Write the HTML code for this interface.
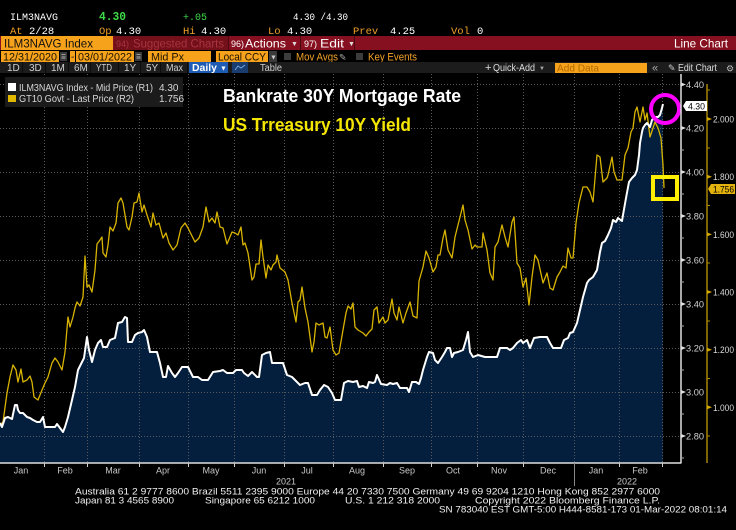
<!DOCTYPE html>
<html><head><meta charset="utf-8"><style>
html,body{margin:0;padding:0;background:#000;}
svg{display:block;}
text{font-family:"Liberation Sans","DejaVu Sans",sans-serif;}
.mono{font-family:"Liberation Mono","DejaVu Sans Mono",monospace;}
</style></head><body>
<svg width="736" height="530" viewBox="0 0 736 530" xmlns="http://www.w3.org/2000/svg">
<rect x="0" y="0" width="736" height="530" fill="#000"/>

<!-- Row 1 -->
<g font-size="10.5">
<text class="mono" x="10" y="20" fill="#fff" textLength="48" lengthAdjust="spacingAndGlyphs">ILM3NAVG</text>
<text class="mono" x="99" y="20" fill="#3fdc4a" font-weight="bold" font-size="11.5" textLength="27" lengthAdjust="spacingAndGlyphs">4.30</text>
<text class="mono" x="183" y="20" fill="#3fdc4a" textLength="24" lengthAdjust="spacingAndGlyphs">+.05</text>
<text class="mono" x="293" y="20" fill="#fff" textLength="55" lengthAdjust="spacingAndGlyphs">4.30 /4.30</text>
<!-- Row 2 -->
<text class="mono" x="10" y="34" fill="#f0a028">At</text>
<text class="mono" x="29" y="34" fill="#fff">2/28</text>
<text class="mono" x="99" y="34" fill="#f0a028">Op</text>
<text class="mono" x="116" y="34" fill="#fff">4.30</text>
<text class="mono" x="183" y="34" fill="#f0a028">Hi</text>
<text class="mono" x="201" y="34" fill="#fff">4.30</text>
<text class="mono" x="268" y="34" fill="#f0a028">Lo</text>
<text class="mono" x="287" y="34" fill="#fff">4.30</text>
<text class="mono" x="353" y="34" fill="#f0a028">Prev</text>
<text class="mono" x="390" y="34" fill="#fff">4.25</text>
<text class="mono" x="451" y="34" fill="#f0a028">Vol</text>
<text class="mono" x="477" y="34" fill="#fff">0</text>
</g>

<!-- Row 3 red bar -->
<rect x="0" y="36" width="736" height="14" fill="#86101f"/>
<rect x="1" y="36" width="112" height="14" fill="#f7a21b"/>
<text x="4" y="47.5" font-size="12" fill="#111" textLength="89" lengthAdjust="spacingAndGlyphs">ILM3NAVG Index</text>
<rect x="114" y="36" width="114" height="14" fill="#741019"/>
<text x="116" y="47" font-size="9" fill="#a8343f">94)</text>
<text x="133" y="47.5" font-size="12" fill="#a8343f" textLength="91" lengthAdjust="spacingAndGlyphs">Suggested Charts</text>
<rect x="228" y="36" width="1" height="14" fill="#4a0810"/>
<text x="231" y="47" font-size="9" fill="#fff">96)</text>
<text x="245" y="47.5" font-size="12" fill="#fff" textLength="41" lengthAdjust="spacingAndGlyphs">Actions</text>
<text x="291" y="46" font-size="7" fill="#ddd">▼</text>
<rect x="300" y="36" width="1" height="14" fill="#4a0810"/>
<text x="304" y="47" font-size="9" fill="#fff">97)</text>
<text x="320" y="47.5" font-size="12" fill="#fff" textLength="24" lengthAdjust="spacingAndGlyphs">Edit</text>
<text x="348" y="46" font-size="7" fill="#ddd">▼</text>
<rect x="354" y="36" width="1" height="14" fill="#4a0810"/>
<text x="674" y="47.5" font-size="12" fill="#fff" textLength="54" lengthAdjust="spacingAndGlyphs">Line Chart</text>

<!-- Row 4 -->
<rect x="1" y="51" width="58" height="11" fill="#f7a21b"/>
<text x="3" y="60.5" font-size="11" fill="#1a1200" textLength="54" lengthAdjust="spacingAndGlyphs">12/31/2020</text>
<rect x="60" y="52" width="7" height="9" fill="#3a3a3a"/>
<rect x="61.5" y="54" width="4" height="1" fill="#999"/><rect x="61.5" y="56" width="4" height="3" fill="#777"/>
<rect x="70" y="51" width="5" height="11" fill="#f7a21b"/>
<text x="71" y="60" font-size="10" fill="#111">-</text>
<rect x="76" y="51" width="58" height="11" fill="#f7a21b"/>
<text x="78" y="60.5" font-size="11" fill="#1a1200" textLength="54" lengthAdjust="spacingAndGlyphs">03/01/2022</text>
<rect x="135" y="52" width="7" height="9" fill="#3a3a3a"/>
<rect x="136.5" y="54" width="4" height="1" fill="#999"/><rect x="136.5" y="56" width="4" height="3" fill="#777"/>
<rect x="148" y="51" width="63" height="11" fill="#f7a21b"/>
<text x="151" y="60.5" font-size="11" fill="#1a1200" textLength="33" lengthAdjust="spacingAndGlyphs">Mid Px</text>
<rect x="216" y="51" width="52" height="11" fill="#f7a21b"/>
<text x="218" y="60.5" font-size="11" fill="#1a1200" textLength="48" lengthAdjust="spacingAndGlyphs">Local CCY</text>
<rect x="269" y="51" width="8" height="11" fill="#3a3a3a"/>
<text x="270" y="59.5" font-size="7" fill="#ccc">▼</text>
<rect x="284" y="53" width="7" height="7" fill="#3c3c3c"/>
<text x="296" y="60.5" font-size="11" fill="#f0a028" textLength="42" lengthAdjust="spacingAndGlyphs">Mov Avgs</text>
<text x="339" y="60.5" font-size="9" fill="#aaa" font-family="DejaVu Sans">✎</text>
<rect x="356" y="53" width="7" height="7" fill="#3c3c3c"/>
<text x="368" y="60.5" font-size="11" fill="#f0a028" textLength="49" lengthAdjust="spacingAndGlyphs">Key Events</text>

<!-- Row 5 -->
<rect x="0" y="62" width="736" height="11" fill="#1c1c1c"/>
<g font-size="10" fill="#cfcfcf">
<text x="7" y="71">1D</text>
<text x="29" y="71">3D</text>
<text x="51" y="71">1M</text>
<text x="74" y="71">6M</text>
<text x="96" y="71" textLength="16" lengthAdjust="spacingAndGlyphs">YTD</text>
<text x="124" y="71">1Y</text>
<text x="146" y="71">5Y</text>
<text x="166" y="71" textLength="17" lengthAdjust="spacingAndGlyphs">Max</text>
</g>
<g fill="#0c0c0c">
<rect x="22" y="62" width="1" height="11"/><rect x="45" y="62" width="1" height="11"/>
<rect x="68" y="62" width="1" height="11"/><rect x="90" y="62" width="1" height="11"/>
<rect x="118" y="62" width="1" height="11"/><rect x="140" y="62" width="1" height="11"/>
<rect x="160" y="62" width="1" height="11"/><rect x="187" y="62" width="1" height="11"/>
</g>
<rect x="189" y="62" width="39" height="11" fill="#1d5bb5"/>
<text x="192" y="71" font-size="10.5" fill="#fff" font-weight="bold" textLength="25" lengthAdjust="spacingAndGlyphs">Daily</text>
<text x="220" y="70.5" font-size="7" fill="#fff">▼</text>
<rect x="232" y="62" width="16" height="11" fill="#1a3c6e"/>
<polyline points="235,70 238,66 241,68 245,65" fill="none" stroke="#6fa8e8" stroke-width="1"/>
<text x="260" y="71" font-size="10" fill="#cfcfcf" textLength="22" lengthAdjust="spacingAndGlyphs">Table</text>
<text x="485" y="71" font-size="11" fill="#ddd">+</text>
<text x="493" y="71" font-size="10" fill="#ddd" textLength="42" lengthAdjust="spacingAndGlyphs">Quick-Add</text>
<text x="539" y="70" font-size="6" fill="#aaa">▼</text>
<rect x="555" y="63" width="92" height="10" fill="#f7a21b"/>
<text x="557" y="71.5" font-size="10.5" fill="#b06a00" textLength="42" lengthAdjust="spacingAndGlyphs">Add Data</text>
<text x="652" y="71.5" font-size="11" fill="#aaa">«</text>
<text x="668" y="71" font-size="9" fill="#ccc" font-family="DejaVu Sans">✎</text>
<text x="678" y="71" font-size="10" fill="#ddd" textLength="39" lengthAdjust="spacingAndGlyphs">Edit Chart</text>
<text x="726" y="71.5" font-size="9" fill="#bbb" font-family="DejaVu Sans">⚙</text>

<!-- Plot fill -->
<polygon fill="#031f3d" points="0,423 2,427 5,418 8,417 12,419 15,405 17,405 18,410 20,413 23,413 27,417 30,418 33,420 37,422 40,422 43,417 45,427 55,427 57,424 60,428 63,432 65,427 68,417 72,400 75,387 78,370 82,362 84,358 87,337 89,350 92,362 95,350 98,343 101,340 103,347 107,347 110,340 115,338 118,323 122,322 125,317 127,318 128,342 132,342 135,335 138,333 142,332 144,330 147,337 150,352 157,352 160,363 163,377 166,377 168,366 172,373 175,377 178,373 182,367 188,367 193,377 198,377 202,380 208,380 213,372 220,371 223,370 227,373 233,373 236,370 242,370 244,373 248,376 252,372 257,377 259,377 262,355 266,353 270,352 272,363 283,363 287,375 292,377 295,380 300,385 305,383 308,383 312,395 317,395 320,390 324,385 328,387 332,393 335,400 341,400 344,383 348,381 353,382 357,381 359,387 363,386 367,388 369,382 373,383 375,382 377,375 381,384 387,385 390,383 393,384 397,383 400,388 407,388 409,392 412,382 416,382 419,384 421,378 423,370 427,357 429,352 433,353 435,360 438,363 442,357 445,352 447,348 450,348 452,357 454,353 458,352 463,350 466,340 468,332 470,352 473,357 478,355 485,357 497,357 500,348 507,348 510,350 513,348 517,343 521,340 523,343 527,340 530,348 534,338 540,337 547,337 550,343 553,348 561,348 564,340 568,338 570,333 573,332 577,323 580,310 583,297 587,283 589,280 593,277 597,270 600,252 602,243 605,241 608,235 611,228 613,220 616,222 618,218 622,221 623,215 626,198 629,182 632,178 635,175 637,170 639,155 640,143 642,132 643,128 645,125 647,123 650,127 652,120 654,118 656,117 658,117 660,115 662,108 663,104 663,463 0,463"/>

<!-- Grid -->
<g stroke="#5a5a5a" stroke-width="1" stroke-dasharray="1 2">
<line x1="0" y1="84.5" x2="681" y2="84.5"/><line x1="0" y1="128.5" x2="681" y2="128.5"/>
<line x1="0" y1="172.5" x2="681" y2="172.5"/><line x1="0" y1="216.5" x2="681" y2="216.5"/>
<line x1="0" y1="260.5" x2="681" y2="260.5"/><line x1="0" y1="304.5" x2="681" y2="304.5"/>
<line x1="0" y1="348.5" x2="681" y2="348.5"/><line x1="0" y1="392.5" x2="681" y2="392.5"/>
<line x1="0" y1="436.5" x2="681" y2="436.5"/>
<line x1="44.5" y1="74" x2="44.5" y2="463"/><line x1="87.5" y1="74" x2="87.5" y2="463"/>
<line x1="139.5" y1="74" x2="139.5" y2="463"/><line x1="188.5" y1="74" x2="188.5" y2="463"/>
<line x1="234.5" y1="74" x2="234.5" y2="463"/><line x1="284.5" y1="74" x2="284.5" y2="463"/>
<line x1="333.5" y1="74" x2="333.5" y2="463"/><line x1="383.5" y1="74" x2="383.5" y2="463"/>
<line x1="431.5" y1="74" x2="431.5" y2="463"/><line x1="477.5" y1="74" x2="477.5" y2="463"/>
<line x1="523.5" y1="74" x2="523.5" y2="463"/><line x1="574.5" y1="74" x2="574.5" y2="463"/>
<line x1="619.5" y1="74" x2="619.5" y2="463"/><line x1="662.5" y1="74" x2="662.5" y2="463"/>
</g>

<!-- Legend -->
<rect x="5" y="77" width="178" height="30" fill="#1b1b1b"/>
<rect x="8" y="83" width="8" height="8" fill="#fff"/>
<text x="19" y="91" font-size="10" fill="#d8d8d8" textLength="134" lengthAdjust="spacingAndGlyphs">ILM3NAVG Index - Mid Price (R1)</text>
<text x="159" y="91" font-size="10" fill="#d8d8d8">4.30</text>
<rect x="8" y="95" width="8" height="7" fill="#e0b800"/>
<text x="19" y="102" font-size="10" fill="#d8d8d8" textLength="115" lengthAdjust="spacingAndGlyphs">GT10 Govt - Last Price (R2)</text>
<text x="159" y="102" font-size="10" fill="#d8d8d8">1.756</text>

<!-- Titles -->
<text x="223" y="102" font-size="18" font-weight="bold" fill="#fff" textLength="238" lengthAdjust="spacingAndGlyphs">Bankrate 30Y Mortgage Rate</text>
<text x="223" y="131" font-size="18" font-weight="bold" fill="#f5e600" textLength="188" lengthAdjust="spacingAndGlyphs">US Trreasury 10Y Yield</text>

<!-- Series -->
<polyline fill="none" stroke="#d8b400" stroke-width="1.3" stroke-linejoin="round" points="0,425 3,422 7,393 10,377 13,365 16,370 18,382 21,369 23,382 27,380 30,376 32,382 34,397 38,400 42,390 45,383 48,377 52,363 55,358 58,362 62,370 65,352 68,317 70,327 73,317 75,308 77,302 80,306 83,297 85,256 87,287 89,285 92,292 95,270 97,244 100,240 102,237 103,253 106,257 108,245 110,227 113,231 116,223 118,203 121,198 123,203 127,227 129,230 132,217 134,203 137,202 139,193 142,212 144,205 147,215 151,227 153,213 156,225 159,223 163,238 166,233 169,243 173,250 177,245 181,228 185,223 188,228 193,238 195,242 199,238 203,227 206,207 209,222 212,218 215,223 217,212 220,227 223,228 227,244 232,232 235,233 238,235 241,227 243,245 245,243 248,253 252,280 254,277 256,264 259,264 261,240 263,257 266,278 268,265 271,270 273,265 276,262 277,255 280,268 285,272 288,280 292,303 296,322 298,302 300,300 302,287 305,308 308,322 312,352 314,342 316,323 319,325 323,323 325,337 327,338 330,327 333,350 336,355 339,353 343,330 346,313 348,306 351,309 353,303 355,327 358,330 363,333 366,336 369,332 372,329 374,310 377,307 379,323 383,317 385,323 388,320 392,299 394,313 397,320 399,307 403,323 406,313 410,302 413,316 417,318 419,281 423,267 426,251 429,258 433,272 436,267 438,255 440,255 443,238 445,230 448,250 452,258 455,237 458,225 463,205 465,220 468,230 472,249 475,245 477,247 482,247 483,233 487,250 490,273 493,280 495,247 498,242 502,225 505,237 508,247 512,222 514,217 517,263 520,268 523,287 526,278 529,305 532,277 535,255 538,260 543,283 547,273 550,288 553,290 557,277 560,272 563,266 566,268 568,248 571,258 573,258 576,223 579,203 583,187 587,187 590,192 593,202 597,155 600,157 603,182 607,178 608,175 612,157 614,172 617,180 622,180 625,155 628,148 631,132 633,128 635,112 637,107 640,122 643,107 645,120 647,113 650,137 653,128 655,122 658,128 661,138 663,165 664,188"/>
<polyline fill="none" stroke="#fff" stroke-width="2" stroke-linejoin="round" points="0,423 2,427 5,418 8,417 12,419 15,405 17,405 18,410 20,413 23,413 27,417 30,418 33,420 37,422 40,422 43,417 45,427 55,427 57,424 60,428 63,432 65,427 68,417 72,400 75,387 78,370 82,362 84,358 87,337 89,350 92,362 95,350 98,343 101,340 103,347 107,347 110,340 115,338 118,323 122,322 125,317 127,318 128,342 132,342 135,335 138,333 142,332 144,330 147,337 150,352 157,352 160,363 163,377 166,377 168,366 172,373 175,377 178,373 182,367 188,367 193,377 198,377 202,380 208,380 213,372 220,371 223,370 227,373 233,373 236,370 242,370 244,373 248,376 252,372 257,377 259,377 262,355 266,353 270,352 272,363 283,363 287,375 292,377 295,380 300,385 305,383 308,383 312,395 317,395 320,390 324,385 328,387 332,393 335,400 341,400 344,383 348,381 353,382 357,381 359,387 363,386 367,388 369,382 373,383 375,382 377,375 381,384 387,385 390,383 393,384 397,383 400,388 407,388 409,392 412,382 416,382 419,384 421,378 423,370 427,357 429,352 433,353 435,360 438,363 442,357 445,352 447,348 450,348 452,357 454,353 458,352 463,350 466,340 468,332 470,352 473,357 478,355 485,357 497,357 500,348 507,348 510,350 513,348 517,343 521,340 523,343 527,340 530,348 534,338 540,337 547,337 550,343 553,348 561,348 564,340 568,338 570,333 573,332 577,323 580,310 583,297 587,283 589,280 593,277 597,270 600,252 602,243 605,241 608,235 611,228 613,220 616,222 618,218 622,221 623,215 626,198 629,182 632,178 635,175 637,170 639,155 640,143 642,132 643,128 645,125 647,123 650,127 652,120 654,118 656,117 658,117 660,115 662,108 663,104"/>

<!-- Annotations -->
<circle cx="665" cy="109" r="14" fill="none" stroke="#ff00ff" stroke-width="4"/>
<rect x="653" y="177" width="24" height="22" fill="none" stroke="#ffee00" stroke-width="4"/>

<!-- Axes -->
<line x1="681" y1="74" x2="681" y2="463.5" stroke="#e0e0e0" stroke-width="1.5"/>
<line x1="0" y1="463" x2="681" y2="463" stroke="#e0e0e0" stroke-width="1.5"/>
<line x1="707" y1="84" x2="707" y2="463" stroke="#c09a00" stroke-width="1.3"/>

<!-- Left (R1) ticks & labels -->
<g fill="#e0e0e0">
<polygon points="681,82.5 686,84.5 681,86.5"/><polygon points="681,126 686,128 681,130"/>
<polygon points="681,170 686,172 681,174"/><polygon points="681,214 686,216 681,218"/>
<polygon points="681,258 686,260 681,262"/><polygon points="681,302 686,304 681,306"/>
<polygon points="681,346 686,348 681,350"/><polygon points="681,390 686,392 681,394"/>
<polygon points="681,434 686,436 681,438"/>
</g>
<g stroke="#aaa" stroke-width="1">
<line x1="681" y1="150" x2="684" y2="150"/><line x1="681" y1="194" x2="684" y2="194"/>
<line x1="681" y1="238" x2="684" y2="238"/><line x1="681" y1="282" x2="684" y2="282"/>
<line x1="681" y1="326" x2="684" y2="326"/><line x1="681" y1="370" x2="684" y2="370"/>
<line x1="681" y1="414" x2="684" y2="414"/><line x1="681" y1="458" x2="684" y2="458"/>
</g>
<g font-size="9.5" fill="#d0d0d0">
<text x="686" y="88" textLength="18" lengthAdjust="spacingAndGlyphs">4.40</text>
<text x="686" y="131.5" textLength="18" lengthAdjust="spacingAndGlyphs">4.20</text>
<text x="686" y="175.5" textLength="18" lengthAdjust="spacingAndGlyphs">4.00</text>
<text x="686" y="219.5" textLength="18" lengthAdjust="spacingAndGlyphs">3.80</text>
<text x="686" y="263.5" textLength="18" lengthAdjust="spacingAndGlyphs">3.60</text>
<text x="686" y="307.5" textLength="18" lengthAdjust="spacingAndGlyphs">3.40</text>
<text x="686" y="351.5" textLength="18" lengthAdjust="spacingAndGlyphs">3.20</text>
<text x="686" y="395.5" textLength="18" lengthAdjust="spacingAndGlyphs">3.00</text>
<text x="686" y="439.5" textLength="18" lengthAdjust="spacingAndGlyphs">2.80</text>
</g>
<polygon points="683,106 686,101 707,101 707,111 686,111" fill="#fff"/>
<text x="688" y="109.5" font-size="9.5" fill="#000" textLength="17" lengthAdjust="spacingAndGlyphs">4.30</text>

<!-- Right (R2) ticks & labels -->
<g fill="#d4aa00">
<polygon points="707,117 712,119 707,121"/><polygon points="707,174.7 712,176.7 707,178.7"/>
<polygon points="707,232.4 712,234.4 707,236.4"/><polygon points="707,290 712,292 707,294"/>
<polygon points="707,347.7 712,349.7 707,351.7"/><polygon points="707,405.3 712,407.3 707,409.3"/>
</g>
<g stroke="#b08e00" stroke-width="1">
<line x1="707" y1="90" x2="710" y2="90"/><line x1="707" y1="148" x2="710" y2="148"/>
<line x1="707" y1="205.5" x2="710" y2="205.5"/><line x1="707" y1="263" x2="710" y2="263"/>
<line x1="707" y1="321" x2="710" y2="321"/><line x1="707" y1="378.5" x2="710" y2="378.5"/>
<line x1="707" y1="436" x2="710" y2="436"/>
</g>
<g font-size="9.5" fill="#d8d8d8">
<text x="713" y="122.5" textLength="21" lengthAdjust="spacingAndGlyphs">2.000</text>
<text x="713" y="180" textLength="21" lengthAdjust="spacingAndGlyphs">1.800</text>
<text x="713" y="238" textLength="21" lengthAdjust="spacingAndGlyphs">1.600</text>
<text x="713" y="295.5" textLength="21" lengthAdjust="spacingAndGlyphs">1.400</text>
<text x="713" y="353" textLength="21" lengthAdjust="spacingAndGlyphs">1.200</text>
<text x="713" y="411" textLength="21" lengthAdjust="spacingAndGlyphs">1.000</text>
</g>
<polygon points="708,189 711,184 735,184 735,194 711,194" fill="#e3b20c"/>
<text x="713" y="192.5" font-size="9.5" fill="#000" textLength="21" lengthAdjust="spacingAndGlyphs">1.756</text>

<!-- X axis ticks -->
<g stroke="#cfcfcf" stroke-width="1">
<line x1="44.5" y1="463" x2="44.5" y2="467"/><line x1="87.5" y1="463" x2="87.5" y2="467"/>
<line x1="139.5" y1="463" x2="139.5" y2="467"/><line x1="188.5" y1="463" x2="188.5" y2="467"/>
<line x1="234.5" y1="463" x2="234.5" y2="467"/><line x1="284.5" y1="463" x2="284.5" y2="467"/>
<line x1="333.5" y1="463" x2="333.5" y2="467"/><line x1="383.5" y1="463" x2="383.5" y2="467"/>
<line x1="431.5" y1="463" x2="431.5" y2="467"/><line x1="477.5" y1="463" x2="477.5" y2="467"/>
<line x1="523.5" y1="463" x2="523.5" y2="467"/><line x1="619.5" y1="463" x2="619.5" y2="467"/>
<line x1="662.5" y1="463" x2="662.5" y2="467"/>
<line x1="574.5" y1="463" x2="574.5" y2="486" stroke="#888"/>
</g>
<g font-size="9" fill="#c8c8c8" text-anchor="middle">
<text x="21" y="473.5">Jan</text><text x="65" y="473.5">Feb</text>
<text x="113" y="473.5">Mar</text><text x="163" y="473.5">Apr</text>
<text x="211" y="473.5">May</text><text x="259" y="473.5">Jun</text>
<text x="307" y="473.5">Jul</text><text x="357" y="473.5">Aug</text>
<text x="407" y="473.5">Sep</text><text x="453" y="473.5">Oct</text>
<text x="499" y="473.5">Nov</text><text x="548" y="473.5">Dec</text>
<text x="596" y="473.5">Jan</text><text x="640" y="473.5">Feb</text>
<text x="286" y="484.5">2021</text><text x="627" y="484.5">2022</text>
</g>

<!-- Footer -->
<g font-size="9" fill="#f0f0f0">
<text x="75" y="494.5" textLength="585" lengthAdjust="spacingAndGlyphs">Australia 61 2 9777 8600 Brazil 5511 2395 9000 Europe 44 20 7330 7500 Germany 49 69 9204 1210 Hong Kong 852 2977 6000</text>
<text x="75" y="503.5" textLength="99" lengthAdjust="spacingAndGlyphs">Japan 81 3 4565 8900</text>
<text x="205" y="503.5" textLength="110" lengthAdjust="spacingAndGlyphs">Singapore 65 6212 1000</text>
<text x="345" y="503.5" textLength="95" lengthAdjust="spacingAndGlyphs">U.S. 1 212 318 2000</text>
<text x="475" y="503.5" textLength="185" lengthAdjust="spacingAndGlyphs">Copyright 2022 Bloomberg Finance L.P.</text>
<text x="439" y="512.5" textLength="288" lengthAdjust="spacingAndGlyphs">SN 783040 EST  GMT-5:00 H444-8581-173 01-Mar-2022 08:01:14</text>
</g>
</svg>
</body></html>
